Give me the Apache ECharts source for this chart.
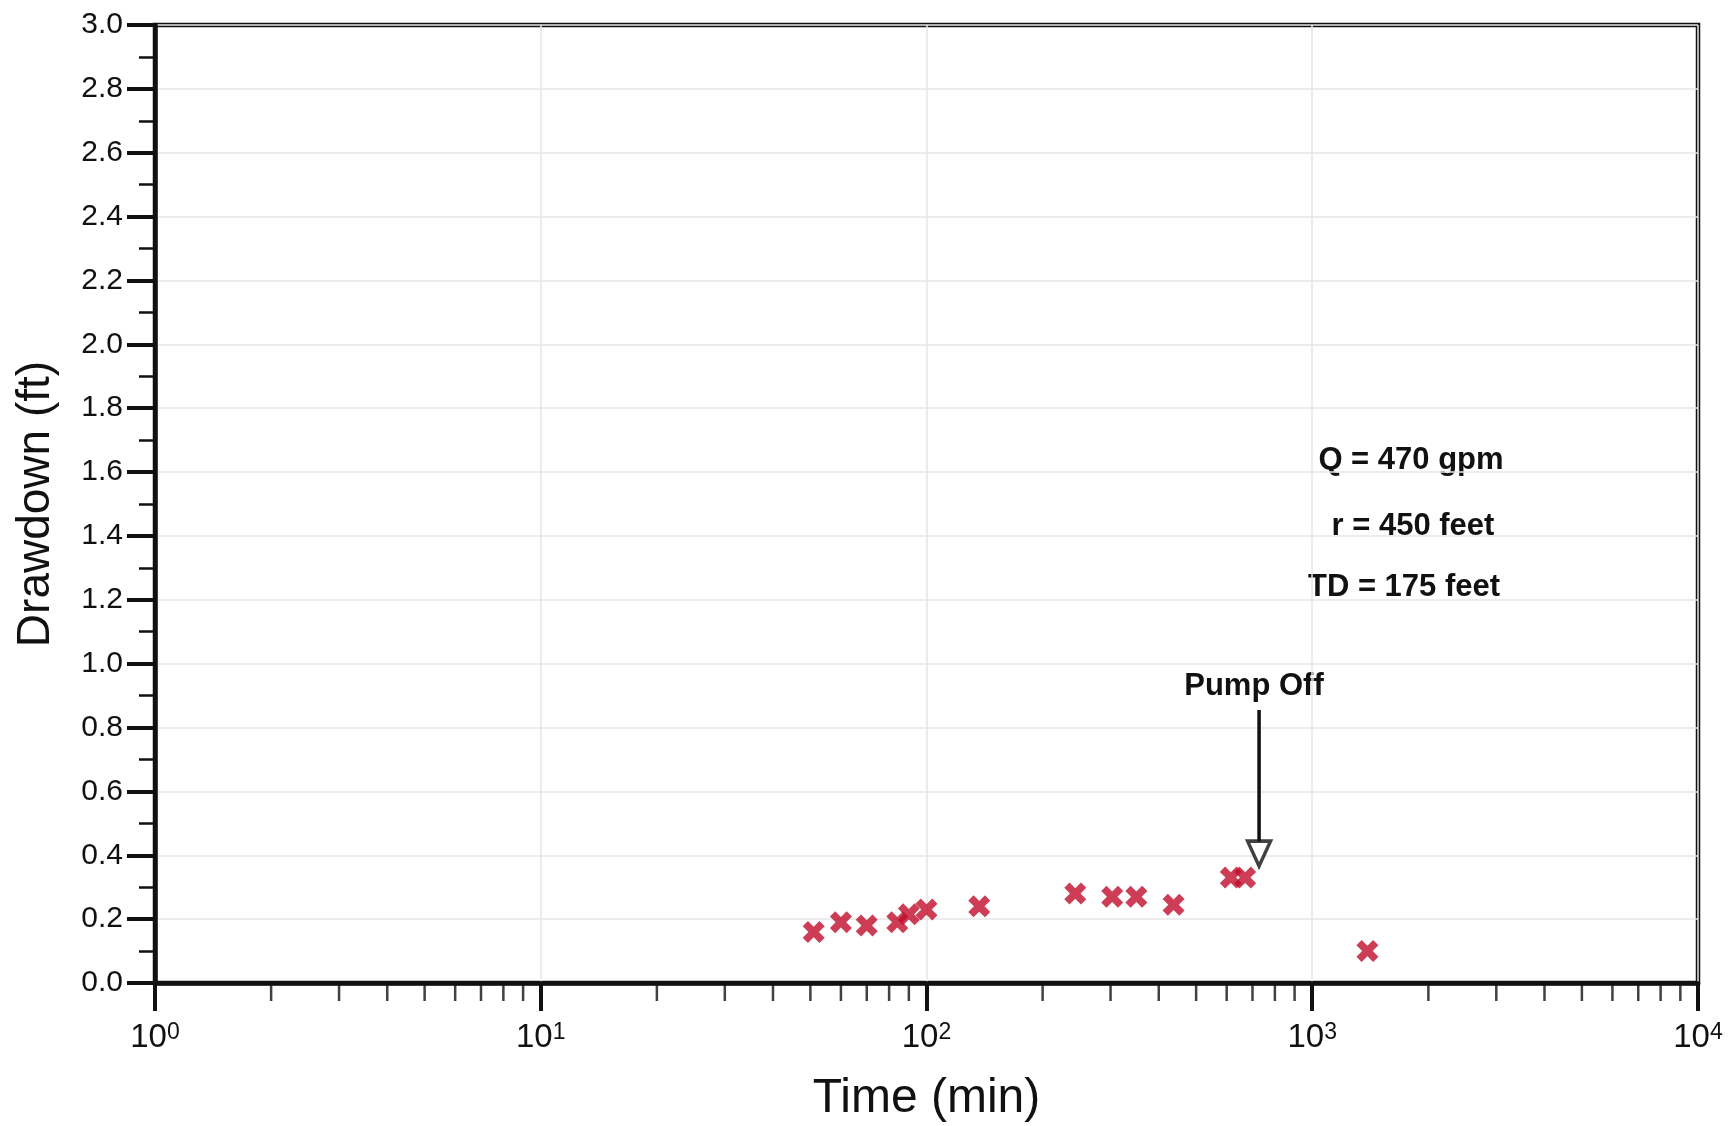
<!DOCTYPE html>
<html>
<head>
<meta charset="utf-8">
<script src="https://cdn.jsdelivr.net/npm/echarts@6/dist/echarts.min.js"></script>
<style>
  html, body { margin: 0; padding: 0; background: #ffffff; }
  #chart { width: 1731px; height: 1126px; }
</style>
</head>
<body>
<div id="chart"></div>
<script>
// Observation-well drawdown record (time since pumping began, drawdown)
const timeMin    = [51, 60, 70, 84, 90, 100, 137, 243, 303, 350, 437, 615, 670, 1390];
const drawdownFt = [0.16, 0.19, 0.18, 0.19, 0.215, 0.23, 0.24, 0.28, 0.27, 0.27, 0.245, 0.33, 0.33, 0.10];

// Intermediate (2..9) tick positions for each logarithmic decade
const minorTickTimes = [
  2, 3, 4, 5, 6, 7, 8, 9,
  20, 30, 40, 50, 60, 70, 80, 90,
  200, 300, 400, 500, 600, 700, 800, 900,
  2000, 3000, 4000, 5000, 6000, 7000, 8000, 9000
];

// "Pump Off" arrow: time, top of the shaft, tip of the head
const pumpOffTime = 728;
const pumpOffShaft = [0.855, 0.44];
const pumpOffHead = 0.405;

// Test parameters printed on the plot
const testInfo = ['Q = 470 gpm', 'r = 450 feet', 'TD = 175 feet'];
const pumpOffText = 'Pump Off';

const FONT = '"Liberation Sans", Arial, Helvetica, sans-serif';
const INK = '#111111';
const MARK = '#c20c2c';

const xMark = 'path://M0,2.4 L2.4,0 L5,2.6 L7.6,0 L10,2.4 L7.4,5 L10,7.6 L7.6,10 L5,7.4 L2.4,10 L0,7.6 L2.6,5 Z';
const downTriangle = 'path://M0,0 L20,0 L10,22 Z';

const chart = echarts.init(document.getElementById('chart'), null, { renderer: 'canvas' });

const infoGraphics = testInfo.map((t, i) => ({
  type: 'text',
  style: {
    text: t,
    x: [1411, 1413, 1404][i],
    y: [460, 526, 587][i],
    fill: INK,
    fontSize: 31,
    fontWeight: 'bold',
    fontFamily: FONT,
    align: 'center',
    textAlign: 'center',
    verticalAlign: 'middle',
    textVerticalAlign: 'middle'
  }
}));

const option = {
  animation: false,
  backgroundColor: '#ffffff',
  grid: {
    left: 155, right: 33, top: 25, bottom: 143,
    show: true,
    borderColor: INK,
    borderWidth: 4.5,
    backgroundColor: 'transparent',
    outerBoundsMode: 'none',
    containLabel: false
  },
  xAxis: {
    type: 'log',
    logBase: 10,
    min: 1,
    max: 10000,
    name: 'Time (min)',
    nameLocation: 'middle',
    nameGap: 92,
    nameTextStyle: { fontSize: 48, color: INK, fontFamily: FONT },
    axisLine: { lineStyle: { color: INK, width: 4.5 } },
    axisTick: { show: true, length: 28, lineStyle: { color: INK, width: 4 } },
    splitLine: { show: true, lineStyle: { color: '#e6e6e6', width: 1.5 } },
    axisLabel: {
      margin: 38,
      fontSize: 33,
      fontFamily: FONT,
      color: INK,
      formatter: function (v) {
        const e = Math.round(Math.log10(v));
        return '{b|10}{s|' + e + '}';
      },
      rich: {
        b: { fontSize: 33, fontFamily: FONT, color: INK, lineHeight: 33, verticalAlign: 'bottom' },
        s: { fontSize: 23, fontFamily: FONT, color: INK, lineHeight: 23, verticalAlign: 'top', padding: [0, 0, 19, 0] }
      }
    }
  },
  yAxis: {
    type: 'value',
    min: 0,
    max: 3,
    interval: 0.2,
    name: 'Drawdown (ft)',
    nameLocation: 'middle',
    nameGap: 96,
    nameTextStyle: { fontSize: 46, color: INK, fontFamily: FONT },
    axisLine: { lineStyle: { color: INK, width: 4.5 } },
    axisTick: { show: true, length: 28, lineStyle: { color: INK, width: 4 } },
    minorTick: { show: true, splitNumber: 2, length: 16, lineStyle: { color: INK, width: 2.5 } },
    splitLine: { show: true, lineStyle: { color: '#e6e6e6', width: 1.5 } },
    axisLabel: {
      margin: 32,
      fontSize: 30,
      fontFamily: FONT,
      color: INK,
      formatter: v => v.toFixed(1)
    }
  },
  series: [
    {
      // intermediate log ticks hanging below the time axis
      type: 'scatter',
      silent: true,
      clip: false,
      z: 4,
      symbol: 'rect',
      symbolSize: [2.5, 18],
      symbolOffset: [0, 9],
      itemStyle: { color: INK },
      data: minorTickTimes.map(t => [t, 0])
    },
    {
      name: 'Drawdown',
      type: 'scatter',
      z: 5,
      symbol: xMark,
      symbolSize: 22,
      itemStyle: { color: MARK },
      data: timeMin.map((t, i) => [t, drawdownFt[i]])
    },
    {
      // arrow shaft
      type: 'line',
      silent: true,
      z: 6,
      symbol: 'none',
      lineStyle: { color: INK, width: 3.5 },
      data: pumpOffShaft.map(v => [pumpOffTime, v])
    },
    {
      // open arrow head
      type: 'scatter',
      silent: true,
      z: 7,
      symbol: downTriangle,
      symbolSize: [23, 25],
      itemStyle: { color: '#ffffff', borderColor: INK, borderWidth: 3.5 },
      data: [[pumpOffTime, pumpOffHead]]
    }
  ],
  graphic: infoGraphics.concat([{
    type: 'text',
    style: {
      text: pumpOffText,
      x: 1254,
      y: 686,
      fill: INK,
      fontSize: 31,
      fontWeight: 'bold',
      fontFamily: FONT,
      align: 'center',
      textAlign: 'center',
      verticalAlign: 'middle',
      textVerticalAlign: 'middle'
    }
  }])
};

chart.setOption(option);
</script>
</body>
</html>
